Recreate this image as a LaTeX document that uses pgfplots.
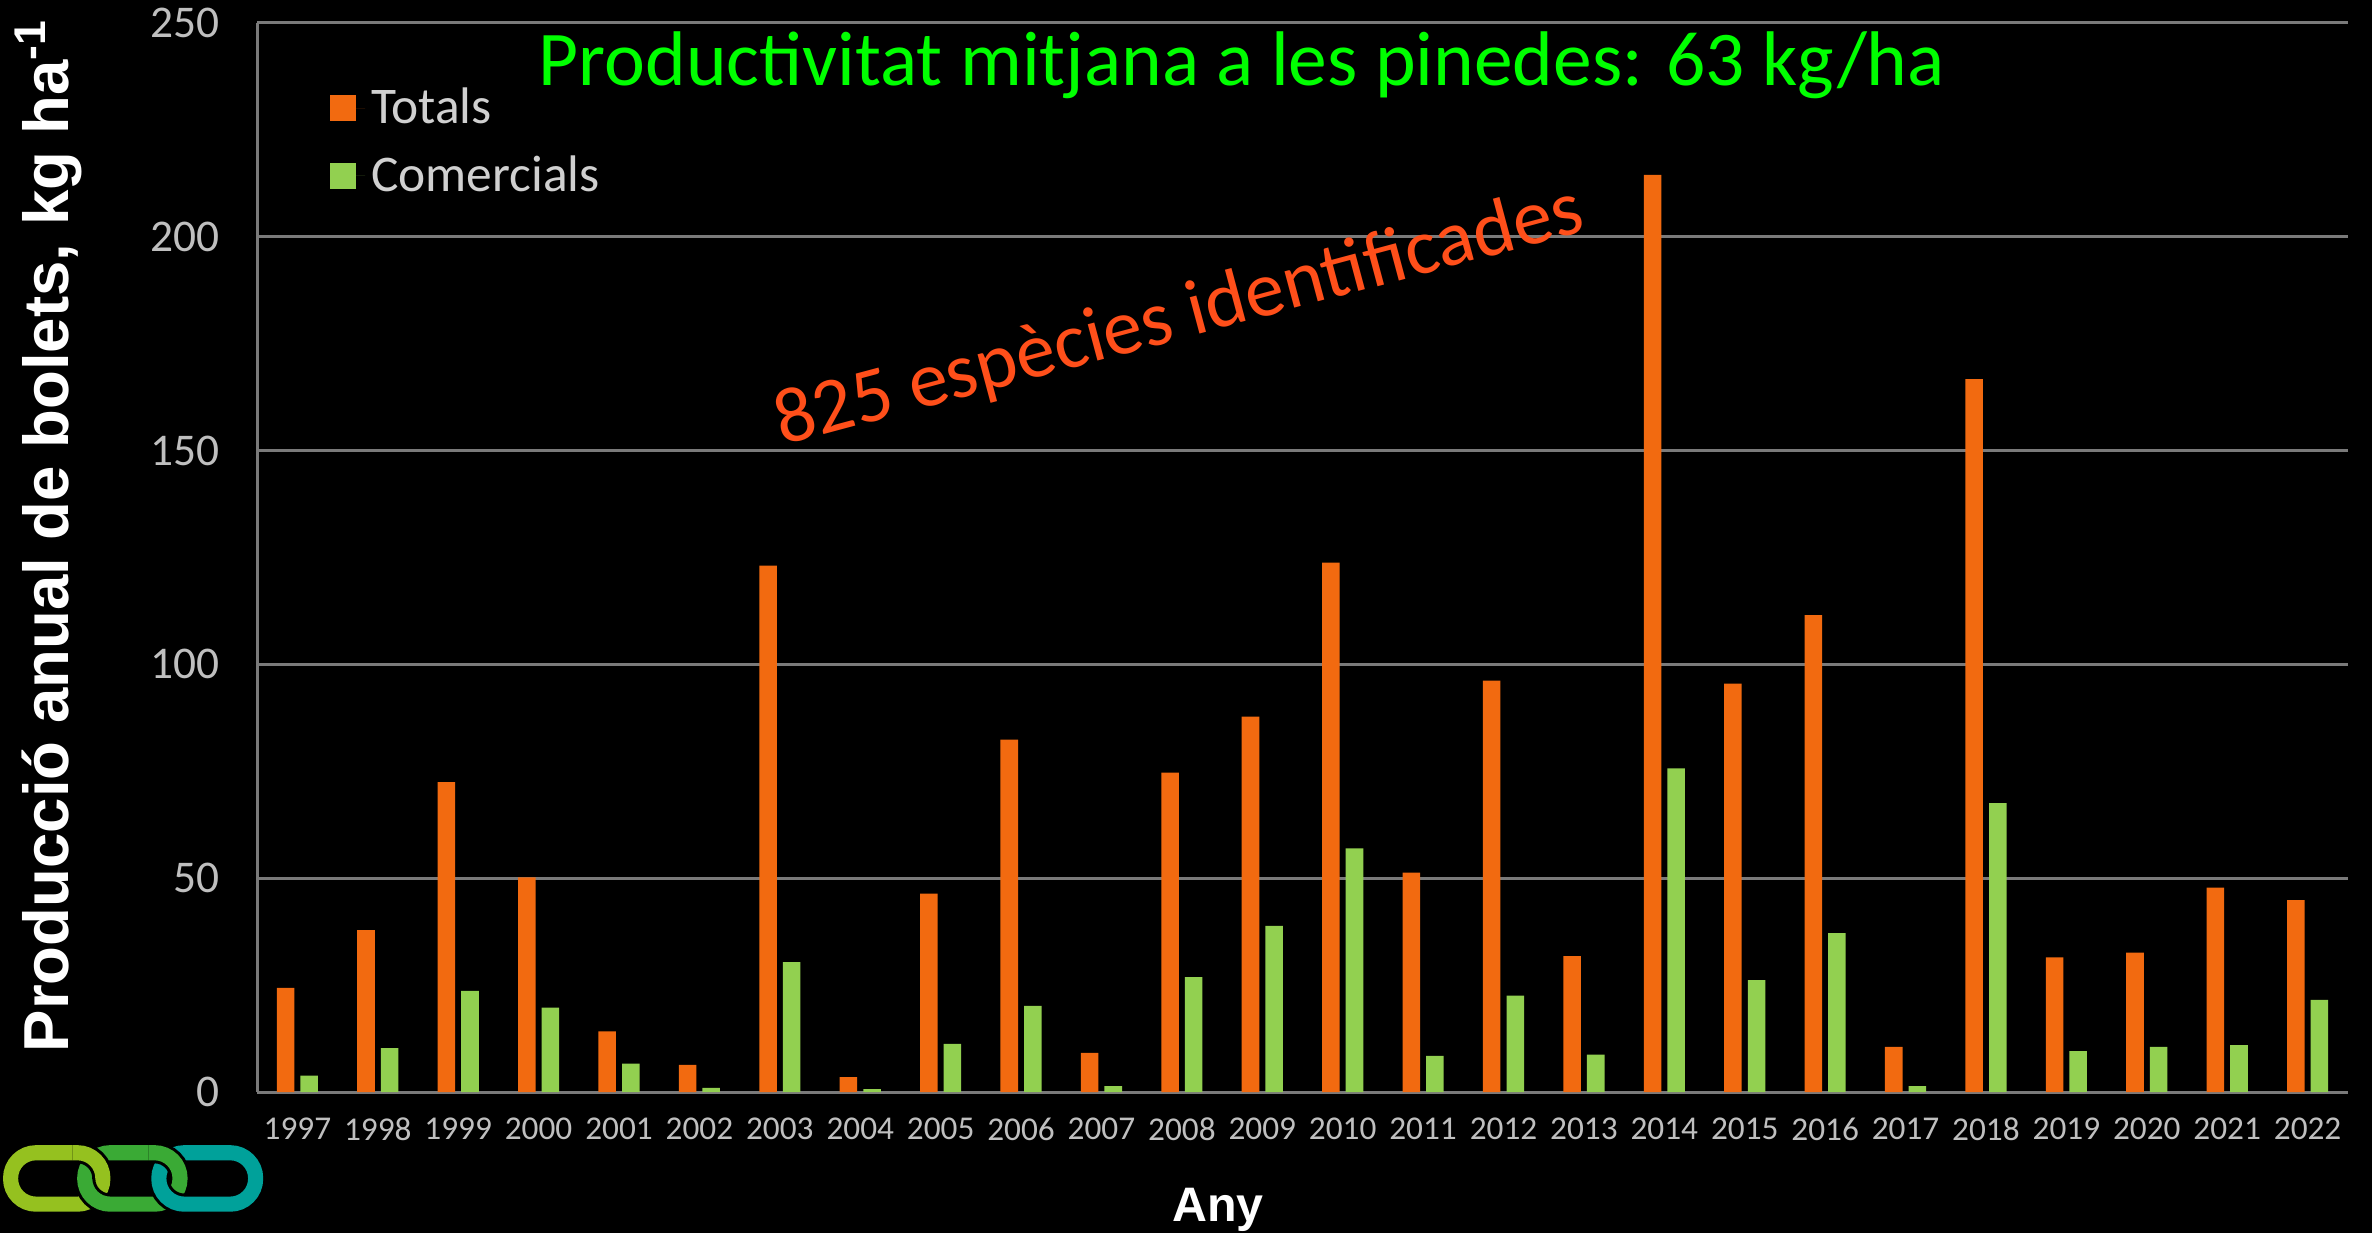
\documentclass[border=0pt]{standalone}
\usepackage{pgfplots}
\pgfplotsset{compat=1.18}
\usepackage{fontspec}
\setmainfont{Carlito}
\newfontfamily\arial{Liberation Sans}
\definecolor{ctot}{HTML}{F26A10}
\definecolor{ccom}{HTML}{92D050}
\definecolor{titg}{HTML}{00FF00}
\definecolor{rotor}{HTML}{FF4F1A}
\definecolor{gridg}{HTML}{7A7A7A}
\definecolor{tickg}{HTML}{BFBFBF}
\definecolor{leggray}{HTML}{D0D0D0}
\definecolor{lk1}{HTML}{95C11F}
\definecolor{lk2}{HTML}{3AAA35}
\definecolor{lk3}{HTML}{00A19A}
\pgfplotstableread{
x tot com
0 24.4 3.9
1 37.9 10.3
2 72.5 23.7
3 50.2 19.8
4 14.2 6.7
5 6.4 1.0
6 123.1 30.4
7 3.5 0.7
8 46.4 11.3
9 82.4 20.2
10 9.2 1.4
11 74.7 26.9
12 87.8 38.9
13 123.8 57.0
14 51.3 8.5
15 96.2 22.6
16 31.8 8.8
17 214.4 75.7
18 95.5 26.2
19 111.5 37.2
20 10.6 1.4
21 166.7 67.6
22 31.5 9.6
23 32.6 10.6
24 47.8 11.0
25 44.9 21.6
}\datatable
\newcommand\chainlink[3]{%
  \draw[black, line width=7pt, rounded corners=8.4pt] (#1,9.5pt) rectangle (#2,26.5pt);
  \draw[#3, line width=5pt, rounded corners=8.4pt] (#1,9.5pt) rectangle (#2,26.5pt);}
\begin{document}
\begin{tikzpicture}
\fill[black] (0,0) rectangle (784pt,407.5pt);
\useasboundingbox (0,0) rectangle (784pt,407.5pt);
\begin{axis}[
  at={(85pt,46.5pt)}, anchor=south west, scale only axis,
  width=691pt, height=353.5pt,
  xmin=-0.5, xmax=25.5, ymin=0, ymax=250,
  ytick={0,50,...,250},
  xtick={0,...,25},
  xticklabels={1997,1998,1999,2000,2001,2002,2003,2004,2005,2006,2007,2008,2009,2010,2011,2012,2013,2014,2015,2016,2017,2018,2019,2020,2021,2022},
  /pgf/number format/assume math mode=true,
  axis y line*=left, axis x line*=bottom,
  axis line style={gridg, line width=1pt, -},
  ymajorgrids, grid style={gridg, line width=1pt},
  major tick length=0pt,
  yticklabel style={font=\fontsize{15}{15}\selectfont, text=tickg, xshift=-9pt},
  xticklabel style={font=\fontsize{11}{11}\selectfont, text=tickg, yshift=-5pt},
  ylabel={\arial\bfseries Producció anual de bolets, kg ha\textsuperscript{-1}},
  ylabel style={font=\fontsize{21}{21}\selectfont, text=white, at={(axis description cs:-0.0999,0.5205)}, anchor=center},
  xlabel={\arial\bfseries Any},
  xlabel style={font=\fontsize{16}{16}\selectfont, text=white, at={(axis description cs:0.4595,-0.110)}, anchor=center},
  legend style={at={(axis description cs:0.0347,0.945)}, anchor=north west, draw=none, fill=none,
    font=\fontsize{17}{17}\selectfont, text=leggray, row sep=5pt, inner sep=0pt},
  legend cell align=left,
  legend image code/.code={\fill[#1] (0pt,-4.25pt) rectangle (8.5pt,4.25pt); \path (0pt,0pt) -- (11.5pt,0pt);},
  clip=false,
]
\addplot[ybar, bar width=5.8pt, bar shift=-3.9pt, fill=ctot, draw=none] table[x=x, y=tot] {\datatable};
\addlegendentry{Totals}
\addplot[ybar, bar width=5.8pt, bar shift=3.9pt, fill=ccom, draw=none] table[x=x, y=com] {\datatable};
\addlegendentry{Comercials}
\node[text=titg, font=\fontsize{25.6}{25.6}\selectfont] at (axis description cs:0.471,0.960) {Productivitat mitjana a les pinedes: 63 kg/ha};
\node[text=rotor, font=\fontsize{26}{26}\selectfont, rotate=15] at (axis description cs:0.441,0.724) {825 espècies identificades};
\end{axis}
% logo
\chainlink{3.5pt}{34pt}{lk1}
\chainlink{28pt}{59.5pt}{lk2}
\chainlink{52.5pt}{84.5pt}{lk3}
\begin{scope}
\clip (24pt,18pt) rectangle (40pt,32pt);
\chainlink{3.5pt}{34pt}{lk1}
\end{scope}
\begin{scope}
\clip (49pt,18pt) rectangle (65pt,32pt);
\chainlink{28pt}{59.5pt}{lk2}
\end{scope}
\end{tikzpicture}
\end{document}
